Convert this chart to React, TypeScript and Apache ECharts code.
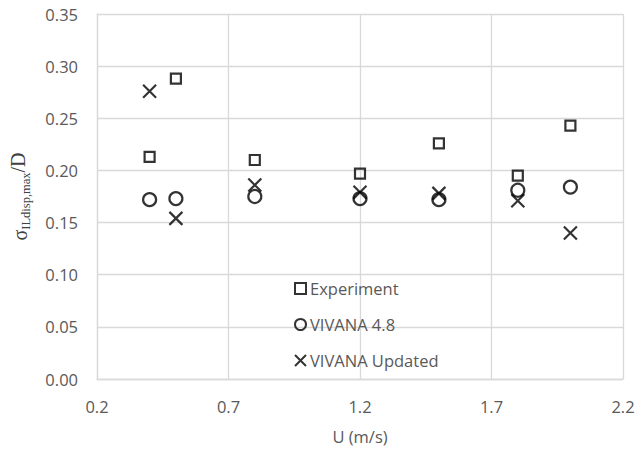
import React, { useEffect, useRef } from "react";
import * as echarts from "echarts";

const velocities = [0.4, 0.5, 0.8, 1.2, 1.5, 1.8, 2.0];
const experiment = [0.213, 0.288, 0.21, 0.197, 0.226, 0.195, 0.243];
const vivana48 = [0.172, 0.173, 0.175, 0.173, 0.172, 0.181, 0.184];
const vivanaUpdated = [0.276, 0.154, 0.186, 0.179, 0.178, 0.171, 0.14];
const seriesNames = ["Experiment", "VIVANA 4.8", "VIVANA Updated"];

const FONT = "'Open Sans', sans-serif";
const GRAY = "#595959";
const GRID = "#d9d9d9";
const CROSS = "path://M0,0L10,10M10,0L0,10";

export default function App() {
  const ref = useRef<HTMLDivElement>(null);
  useEffect(() => {
    if (!ref.current) return;
    const chart = echarts.init(ref.current, undefined, { renderer: "svg" });
    const pair = (ys: number[]) => velocities.map((u, i) => [u, ys[i]]);
    const marker = {
      color: "rgba(0,0,0,0)",
      borderColor: "#000",
      borderWidth: 2.2,
    };
    chart.setOption({
      animation: false,
      backgroundColor: "#fff",
      grid: { left: 97, right: 15, top: 14, bottom: 74, containLabel: false },
      legend: {
        orient: "vertical",
        left: 289,
        top: 275,
        itemWidth: 11,
        itemHeight: 11,
        itemGap: 19,
        data: seriesNames,
        textStyle: { fontFamily: FONT, fontSize: 16.5, color: GRAY, padding: [0, 0, 0, -1] },
      },
      xAxis: {
        type: "value",
        min: 0.2,
        max: 2.2,
        interval: 0.5,
        name: "U (m/s)",
        nameLocation: "middle",
        nameGap: 49,
        nameTextStyle: { fontFamily: FONT, fontSize: 16.5, color: GRAY },
        axisLine: { show: true, lineStyle: { color: GRID, width: 1.3 } },
        axisTick: { show: false },
        splitLine: { show: true, lineStyle: { color: GRID, width: 1.3 } },
        axisLabel: {
          fontFamily: FONT,
          fontSize: 16.5,
          color: GRAY,
          margin: 19,
          formatter: (v: number) => v.toFixed(1),
        },
      },
      yAxis: {
        type: "value",
        min: 0,
        max: 0.35,
        interval: 0.05,
        name: "{s|σ}{sub|ILdisp,max}{d|/D}",
        nameLocation: "middle",
        nameRotate: 90,
        nameGap: 60,
        nameTextStyle: {
          rich: {
            s: { fontFamily: "'Liberation Serif', serif", fontSize: 20, color: "#404040", lineHeight: 24, verticalAlign: "middle" },
            sub: { fontFamily: "'Liberation Serif', serif", fontSize: 12.5, color: "#404040", lineHeight: 24, verticalAlign: "bottom", padding: [8, 0, 0, 0] },
            d: { fontFamily: "'Liberation Serif', serif", fontSize: 20, color: "#404040", lineHeight: 24, verticalAlign: "top", padding: [0, 0, 6, 0] },
          },
        },
        axisLine: { show: true, lineStyle: { color: GRID, width: 1.3 } },
        axisTick: { show: false },
        splitLine: { show: true, lineStyle: { color: GRID, width: 1.3 } },
        axisLabel: {
          fontFamily: FONT,
          fontSize: 16.5,
          color: GRAY,
          margin: 19,
          formatter: (v: number) => v.toFixed(2),
        },
      },
      series: [
        {
          name: seriesNames[0],
          type: "scatter",
          symbol: "rect",
          symbolSize: 10,
          itemStyle: marker,
          data: pair(experiment),
        },
        {
          name: seriesNames[1],
          type: "scatter",
          symbol: "circle",
          symbolSize: 13,
          itemStyle: marker,
          data: pair(vivana48),
        },
        {
          name: seriesNames[2],
          type: "scatter",
          symbol: CROSS,
          symbolSize: 13,
          itemStyle: marker,
          data: pair(vivanaUpdated),
        },
      ],
    });
    return () => chart.dispose();
  }, []);
  return (
    <div
      ref={ref}
      style={{ position: "fixed", left: 0, top: 0, width: 638, height: 453, background: "#fff" }}
    />
  );
}
